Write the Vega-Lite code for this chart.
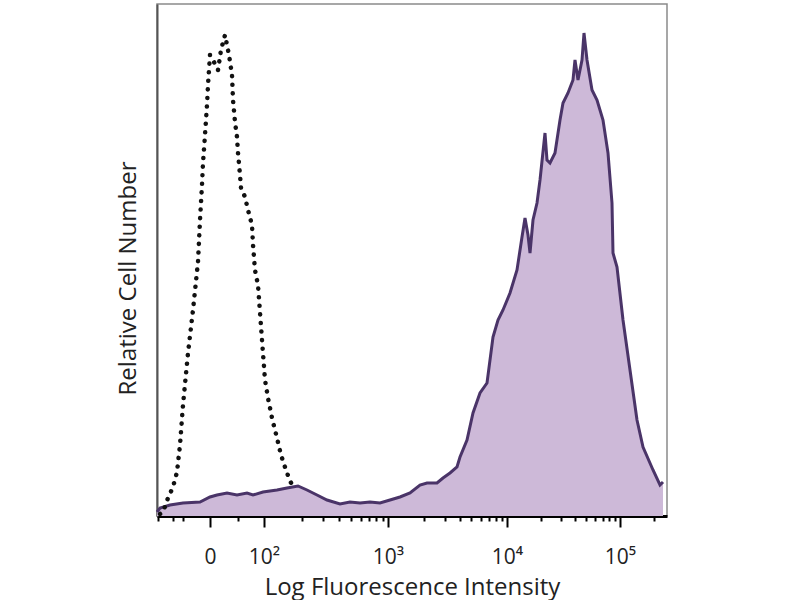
{
  "$schema": "https://vega.github.io/schema/vega-lite/v6.json",
  "width": 510,
  "height": 512,
  "autosize": "none",
  "padding": {"left": 157, "top": 4, "right": 133, "bottom": 84},
  "background": "white",
  "config": {
    "view": {"stroke": "#8a8a8a", "strokeWidth": 1.5},
    "font": "Open Sans, DejaVu Sans"
  },
  "datasets": {
    "stain": [
      {"channel": 0, "count": 4}, {"channel": 6, "count": 8}, {"channel": 26, "count": 11}, {"channel": 52, "count": 13},
      {"channel": 86, "count": 14}, {"channel": 106, "count": 19}, {"channel": 120, "count": 21}, {"channel": 140, "count": 23},
      {"channel": 160, "count": 21}, {"channel": 180, "count": 23}, {"channel": 192, "count": 21}, {"channel": 212, "count": 24},
      {"channel": 240, "count": 26}, {"channel": 260, "count": 28}, {"channel": 282, "count": 30}, {"channel": 300, "count": 26},
      {"channel": 320, "count": 21}, {"channel": 340, "count": 16}, {"channel": 366, "count": 12}, {"channel": 386, "count": 14},
      {"channel": 406, "count": 13}, {"channel": 426, "count": 14}, {"channel": 446, "count": 13}, {"channel": 466, "count": 16},
      {"channel": 486, "count": 19}, {"channel": 506, "count": 23}, {"channel": 526, "count": 31}, {"channel": 540, "count": 33},
      {"channel": 560, "count": 33}, {"channel": 572, "count": 38}, {"channel": 586, "count": 43}, {"channel": 600, "count": 49},
      {"channel": 606, "count": 59}, {"channel": 620, "count": 76}, {"channel": 632, "count": 103}, {"channel": 646, "count": 123},
      {"channel": 660, "count": 133}, {"channel": 672, "count": 179}, {"channel": 682, "count": 196}, {"channel": 692, "count": 206},
      {"channel": 706, "count": 223}, {"channel": 720, "count": 246}, {"channel": 730, "count": 279}, {"channel": 736, "count": 298},
      {"channel": 742, "count": 281}, {"channel": 746, "count": 263}, {"channel": 752, "count": 296}, {"channel": 760, "count": 313},
      {"channel": 766, "count": 336}, {"channel": 776, "count": 383}, {"channel": 780, "count": 356}, {"channel": 786, "count": 353},
      {"channel": 796, "count": 363}, {"channel": 806, "count": 396}, {"channel": 812, "count": 413}, {"channel": 822, "count": 423},
      {"channel": 832, "count": 436}, {"channel": 836, "count": 456}, {"channel": 842, "count": 436}, {"channel": 850, "count": 456},
      {"channel": 854, "count": 483}, {"channel": 860, "count": 456}, {"channel": 870, "count": 426}, {"channel": 880, "count": 416},
      {"channel": 892, "count": 396}, {"channel": 902, "count": 363}, {"channel": 910, "count": 313}, {"channel": 912, "count": 263},
      {"channel": 920, "count": 249}, {"channel": 932, "count": 196}, {"channel": 946, "count": 146}, {"channel": 960, "count": 96},
      {"channel": 972, "count": 69}, {"channel": 992, "count": 46}, {"channel": 1006, "count": 31}, {"channel": 1012, "count": 34}
    ],
    "isotype": [
      {"channel": 6, "count": 2}, {"channel": 12, "count": 4}, {"channel": 22, "count": 18}, {"channel": 32, "count": 29},
      {"channel": 40, "count": 44}, {"channel": 46, "count": 71}, {"channel": 52, "count": 111}, {"channel": 62, "count": 163},
      {"channel": 72, "count": 206}, {"channel": 82, "count": 254}, {"channel": 86, "count": 296}, {"channel": 90, "count": 331},
      {"channel": 92, "count": 353}, {"channel": 96, "count": 381}, {"channel": 100, "count": 411}, {"channel": 102, "count": 431},
      {"channel": 106, "count": 461}, {"channel": 114, "count": 454}, {"channel": 122, "count": 446}, {"channel": 128, "count": 466},
      {"channel": 136, "count": 481}, {"channel": 144, "count": 461}, {"channel": 150, "count": 441}, {"channel": 152, "count": 416},
      {"channel": 156, "count": 394}, {"channel": 160, "count": 379}, {"channel": 162, "count": 363}, {"channel": 166, "count": 341},
      {"channel": 168, "count": 328}, {"channel": 176, "count": 319}, {"channel": 182, "count": 306}, {"channel": 190, "count": 291},
      {"channel": 192, "count": 271}, {"channel": 196, "count": 246}, {"channel": 202, "count": 231}, {"channel": 210, "count": 176},
      {"channel": 216, "count": 136}, {"channel": 222, "count": 118}, {"channel": 230, "count": 98}, {"channel": 240, "count": 78},
      {"channel": 248, "count": 61}, {"channel": 258, "count": 46}, {"channel": 266, "count": 35}, {"channel": 274, "count": 28},
      {"channel": 278, "count": 27}
    ]
  },
  "encoding": {
    "x": {
      "field": "channel",
      "type": "quantitative",
      "scale": {"domain": [0, 1020], "nice": false, "zero": false},
      "axis": {
        "title": "Log Fluorescence Intensity",
        "titleFontSize": 24,
        "titleFontWeight": "normal",
        "titleColor": "#222222",
        "titlePadding": 8,
        "values": [2, 32, 52, 106, 162, 214, 289, 332, 363, 387, 407, 424, 438, 451, 462, 534, 576, 605, 628, 647, 663, 677, 689, 700, 768, 808, 836, 858, 876, 891, 904, 916, 926, 994],
        "labelExpr": "datum.value == 106 ? '0' : datum.value == 214 ? '10²' : datum.value == 462 ? '10³' : datum.value == 700 ? '10⁴' : datum.value == 926 ? '10⁵' : ''",
        "labelFontSize": 21,
        "labelColor": "#222222",
        "labelPadding": 19,
        "labelFlush": false,
        "labelOverlap": false,
        "domainColor": "#000000",
        "domainWidth": 3,
        "tickColor": "#000000",
        "tickWidth": 2,
        "tickSize": {"condition": {"test": "indexof([106, 214, 462, 700, 926], datum.value) >= 0", "value": 11}, "value": 5},
        "grid": false
      }
    },
    "y": {
      "field": "count",
      "type": "quantitative",
      "scale": {"domain": [0, 512], "nice": false},
      "axis": {
        "title": "Relative Cell Number",
        "titleFontSize": 24,
        "titleFontWeight": "normal",
        "titleColor": "#222222",
        "titlePadding": 17,
        "titleY": 274,
        "labels": false,
        "ticks": false,
        "grid": false,
        "domainColor": "#555555",
        "domainWidth": 2
      }
    }
  },
  "layer": [
    {
      "data": {"name": "stain"},
      "mark": {"type": "area", "color": "#cdb9d8", "opacity": 1, "line": {"color": "#4a3468", "strokeWidth": 3}}
    },
    {
      "data": {"name": "isotype"},
      "mark": {"type": "line", "color": "#111111", "strokeWidth": 4.5, "strokeDash": [0.1, 8.5], "strokeCap": "round"}
    }
  ]
}
